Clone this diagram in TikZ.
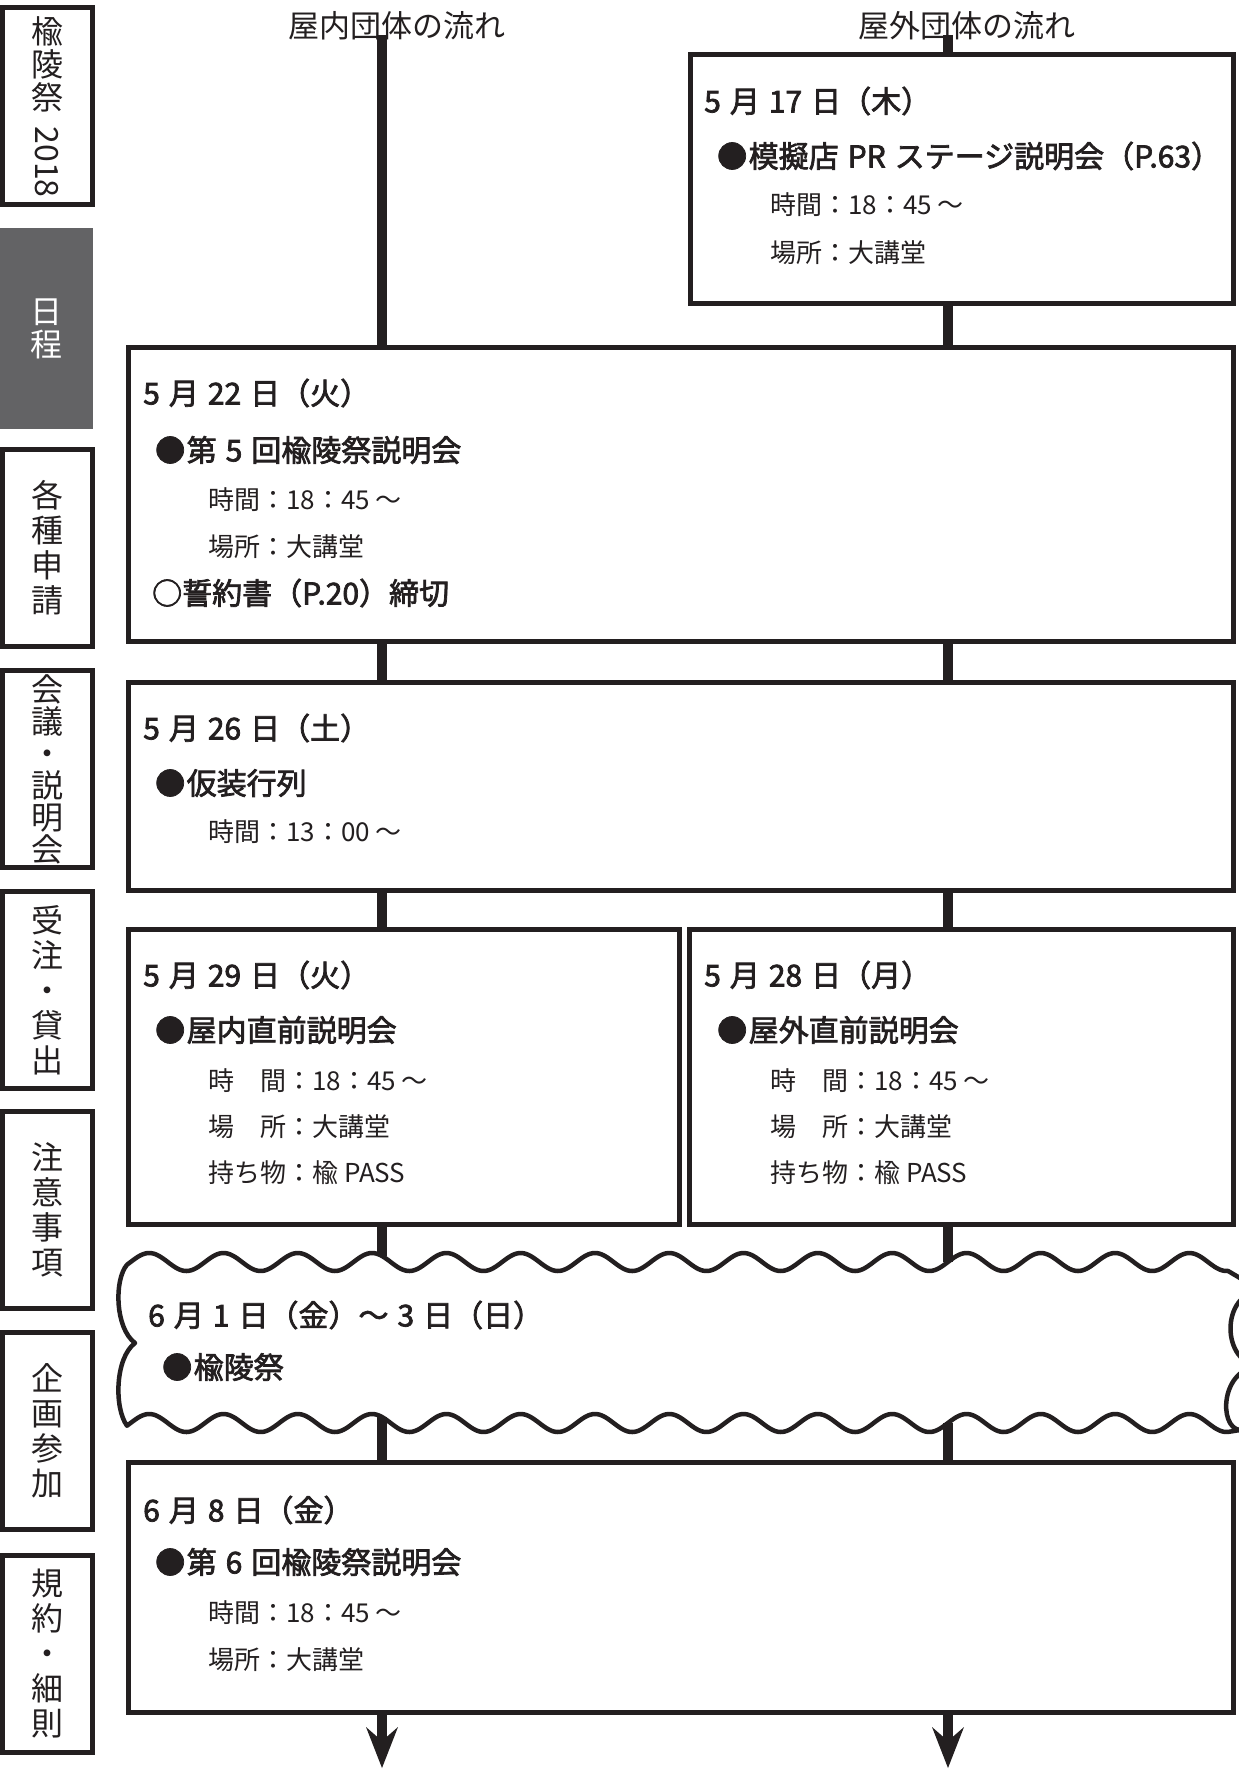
\documentclass[tikz,border=0pt]{standalone}
\usepackage{fontspec}
\setmainfont{Noto Sans CJK JP}
\newfontfamily\hdfam[FakeBold=2.4]{Noto Sans CJK JP}
\usetikzlibrary{arrows.meta}
\definecolor{ink}{RGB}{35,31,32}
\definecolor{tabgray}{RGB}{99,99,101}
\newcommand\hdfont{\hdfam\fontsize{30}{36}\selectfont\spaceskip=9pt\relax}
\newcommand\dtfont{\fontsize{26}{31}\selectfont}
\newcommand\lbfont{\fontsize{31}{36}\selectfont}
\newcommand\tbfont{\fontsize{32}{35}\selectfont}
\newcommand\bul{●\hspace{1.5pt}}
\tikzset{
  box/.style={draw=ink, fill=white, line width=5pt, inner sep=0pt},
  tabbox/.style={draw=ink, fill=white, line width=5pt, minimum width=90pt, minimum height=197pt,
    align=center, font=\tbfont, text=ink},
  flow/.style={draw=ink, line width=10pt},
  tipped/.style={-{Stealth[length=41pt, width=32pt, inset=14pt, line width=0pt]}},
  head/.style={anchor=base west, yshift=-11.4pt, inner sep=0pt, font=\hdfont, text=ink},
  det/.style={anchor=base west, yshift=-9.9pt, inner sep=0pt, font=\dtfont, text=ink},
  lbl/.style={inner sep=0pt, font=\lbfont, text=ink},
  wave/.style={draw=ink, line width=4.5pt, fill=white, line join=round}
}
\begin{document}
\begin{tikzpicture}[x=1pt,y=-1pt]
\useasboundingbox (0,0) rectangle (1239,1769);
\fill[white] (0,0) rectangle (1239,1769);

% ---------- side tabs ----------
\node[tabbox] (t1) at (47.5,106) {};
\node[inner sep=0pt, align=center, font=\fontsize{32}{33}\selectfont, text=ink] (t1a) at (47,64) {楡\\陵\\祭};
\node[inner sep=0pt, rotate=-90, font=\fontsize{32}{33}\selectfont, text=ink] (t1b) at (47,162) {2018};
\node[fill=tabgray, minimum width=93pt, minimum height=201pt, inner sep=0pt, align=center,
      font=\fontsize{32}{33}\selectfont, text=white] (t2) at (46.5,328.5) {日\\程};
\node[tabbox] (t3) at (47.5,548) {各\\種\\申\\請};
\node[tabbox, font=\fontsize{32}{32}\selectfont] (t4) at (47.5,769) {会\\議\\・\\説\\明\\会};
\node[tabbox] (t5) at (47.5,990) {受\\注\\・\\貸\\出};
\node[tabbox] (t6) at (47.5,1210) {注\\意\\事\\項};
\node[tabbox] (t7) at (47.5,1431) {企\\画\\参\\加};
\node[tabbox] (t8) at (47.5,1653.5) {規\\約\\・\\細\\則};

% ---------- column labels ----------
\node[lbl] (hdrL) at (396.5,26) {屋内団体の流れ};
\node[lbl] (hdrR) at (966.5,26) {屋外団体の流れ};

% ---------- boxes ----------
\node[box, minimum width=543pt, minimum height=249pt] (bA) at (961.5,179) {};
\node[box, minimum width=1105pt, minimum height=294pt] (bB) at (680.5,494.5) {};
\node[box, minimum width=1105pt, minimum height=208pt] (bC) at (680.5,786) {};
\node[box, minimum width=551.5pt, minimum height=295pt] (bD1) at (403.75,1077) {};
\node[box, minimum width=543.5pt, minimum height=295pt] (bD2) at (961.25,1077) {};
\node[box, minimum width=1105pt, minimum height=250pt] (bE) at (680.5,1587.5) {};

% ---------- wavy box ----------
\draw[wave] plot[domain=127:1228, samples=500, variable=\t] (\t, {1262-9*cos((\t-966.5)*4.84522)})
  -- (1262,1291) .. controls (1220,1291) and (1220,1366) .. (1262,1366)
  .. controls (1220,1366) and (1218,1428) .. (1240,1430)
  -- plot[domain=1228:127, samples=500, variable=\t] (\t, {1423-9*cos((\t-966.5)*4.84522)})
  .. controls (114,1408) and (115,1358) .. (135,1343)
  .. controls (115,1328) and (114,1280) .. (127,1264.7) -- cycle;

% ---------- connectors ----------
\coordinate (xL) at (382,35);
\coordinate (xR) at (948,35);
\coordinate (wTL) at (382,1256);
\coordinate (wTR) at (948,1262);
\coordinate (wBL) at (382,1417);
\coordinate (wBR) at (948,1423);
\coordinate (tipL) at (382,1768);
\coordinate (tipR) at (948,1768);
\draw[flow] (xL) -- (bB.north -| xL);
\draw[flow] (xR) -- (bA.north -| xR);
\draw[flow] (bA.south -| xR) -- (bB.north -| xR);
\draw[flow] (bB.south -| xL) -- (bC.north -| xL);
\draw[flow] (bB.south -| xR) -- (bC.north -| xR);
\draw[flow] (bC.south -| xL) -- (bD1.north -| xL);
\draw[flow] (bC.south -| xR) -- (bD2.north -| xR);
\draw[flow] (bD1.south -| xL) -- (wTL);
\draw[flow] (bD2.south -| xR) -- (wTR);
\draw[flow] (wBL) -- (bE.north -| xL);
\draw[flow] (wBR) -- (bE.north -| xR);
\draw[flow, tipped] (bE.south -| xL) -- (tipL);
\draw[flow, tipped] (bE.south -| xR) -- (tipR);

% ---------- texts ----------
% box A
\node[head] (a1) at (704,101) {5 月 17 日（木）};
\node[head] (a2) at (717,156) {\bul 模擬店 PR ステージ説明会（P.63）};
\node[det]  (a3) at (770,205) {時間：18：45 ～};
\node[det]  (a4) at (770,253) {場所：大講堂};
% box B
\node[head] (b1) at (143,393) {5 月 22 日（火）};
\node[head] (b2) at (155,450) {\bul 第 5 回楡陵祭説明会};
\node[det]  (b3) at (208,500) {時間：18：45 ～};
\node[det]  (b4) at (208,547) {場所：大講堂};
\node[head] (b5) at (152,593) {○誓約書（P.20）締切};
% box C
\node[head] (c1) at (143,728) {5 月 26 日（土）};
\node[head] (c2) at (155,783) {\bul 仮装行列};
\node[det]  (c3) at (208,832) {時間：13：00 ～};
% box D1
\node[head] (d1) at (143,975) {5 月 29 日（火）};
\node[head] (d2) at (155,1030) {\bul 屋内直前説明会};
\node[det]  (d3) at (208,1081) {時　間：18：45 ～};
\node[det]  (d4) at (208,1127) {場　所：大講堂};
\node[det]  (d5) at (208,1173) {持ち物：楡 PASS};
% box D2
\node[head] (e1) at (704,975) {5 月 28 日（月）};
\node[head] (e2) at (717,1030) {\bul 屋外直前説明会};
\node[det]  (e3) at (770,1081) {時　間：18：45 ～};
\node[det]  (e4) at (770,1127) {場　所：大講堂};
\node[det]  (e5) at (770,1173) {持ち物：楡 PASS};
% wavy box
\node[head] (w1) at (148,1315) {6 月 1 日（金）～ 3 日（日）};
\node[head] (w2) at (162,1367) {\bul 楡陵祭};
% box E
\node[head] (f1) at (143,1510) {6 月 8 日（金）};
\node[head] (f2) at (155,1562) {\bul 第 6 回楡陵祭説明会};
\node[det]  (f3) at (208,1613) {時間：18：45 ～};
\node[det]  (f4) at (208,1660) {場所：大講堂};
\end{tikzpicture}
\end{document}
